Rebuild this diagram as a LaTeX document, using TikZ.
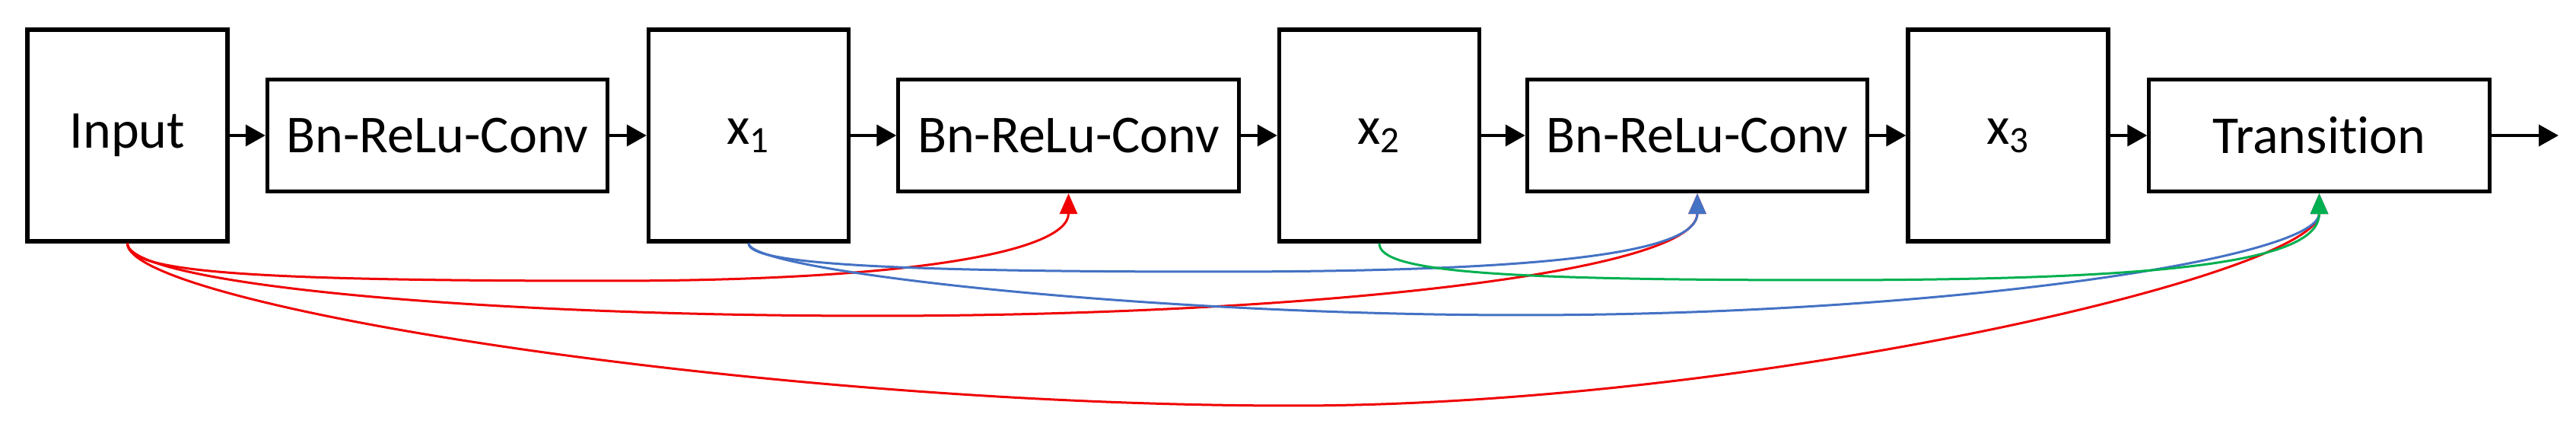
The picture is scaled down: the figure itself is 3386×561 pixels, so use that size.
\documentclass[tikz,border=0pt]{standalone}
\usepackage{fontspec}
\setmainfont{Carlito}[Ligatures=NoCommon]
\usetikzlibrary{arrows.meta}
\definecolor{cred}{RGB}{240,0,0}
\definecolor{cblue}{RGB}{68,114,196}
\definecolor{cgreen}{RGB}{0,176,80}
\begin{document}
\begin{tikzpicture}[x=0.01cm,y=-0.01cm,
  bigbox/.style={draw=black, line width=0.052cm, minimum width=2.63cm, minimum height=2.78cm, inner sep=0pt, font=\fontsize{19.9pt}{24pt}\selectfont},
  opbox/.style={bigbox, minimum width=4.47cm, minimum height=1.47cm},
  flow/.style={line width=0.04cm, -{Triangle[length=0.26cm,width=0.28cm]}},
  skipline/.style={line width=0.03cm, -{Triangle[length=0.27cm,width=0.23cm]}}
]
\useasboundingbox (0,0) rectangle (3386,561);
% nodes
\node[bigbox] (in) at (167.5,178) {Input};
\node[opbox] (bn1) at (575,178) {Bn-ReLu-Conv};
\node[bigbox] (x1) at (984,178) {x\textsubscript{1}};
\node[opbox] (bn2) at (1404.5,178) {Bn-ReLu-Conv};
\node[bigbox] (x2) at (1813,178) {x\textsubscript{2}};
\node[opbox] (bn3) at (2231,178) {Bn-ReLu-Conv};
\node[bigbox] (x3) at (2639.5,178) {x\textsubscript{3}};
\node[opbox] (tr) at (3048.5,178) {Transition};
\coordinate (out) at (3363,178);
% main flow
\draw[flow] (in) -- (bn1);
\draw[flow] (bn1) -- (x1);
\draw[flow] (x1) -- (bn2);
\draw[flow] (bn2) -- (x2);
\draw[flow] (x2) -- (bn3);
\draw[flow] (bn3) -- (x3);
\draw[flow] (x3) -- (tr);
\draw[flow] (tr) -- (out);
% turning points of the skip connections
\coordinate (mA) at (800,369);
\coordinate (mB) at (1150,415);
\coordinate (mC) at (1700,533);
\coordinate (mD) at (1600,357);
\coordinate (mE) at (2000,414);
\coordinate (mF) at (2400,368);
% red: from input
\draw[skipline, cred] (in.south) .. controls +(0,36) and +(-500,0) .. (mA)
  .. controls +(400,0) and +(0,76) .. (bn2.south);
\draw[skipline, cred] (in.south) .. controls +(0,51) and +(-550,0) .. (mB)
  .. controls +(550,0) and +(0,106) .. (bn3.south);
\draw[skipline, cred] (in.south) .. controls +(0,81) and +(-700,0) .. (mC)
  .. controls +(600,0) and +(0,106) .. (tr.south);
% blue: from x1
\draw[skipline, cblue] (x1.south) .. controls +(0,26) and +(-450,0) .. (mD)
  .. controls +(450,0) and +(0,76) .. (bn3.south);
\draw[skipline, cblue] (x1.south) .. controls +(0,36) and +(-500,0) .. (mE)
  .. controls +(550,0) and +(0,86) .. (tr.south);
% green: from x2
\draw[skipline, cgreen] (x2.south) .. controls +(0,36) and +(-450,0) .. (mF)
  .. controls +(480,0) and +(0,86) .. (tr.south);
\end{tikzpicture}
\end{document}
